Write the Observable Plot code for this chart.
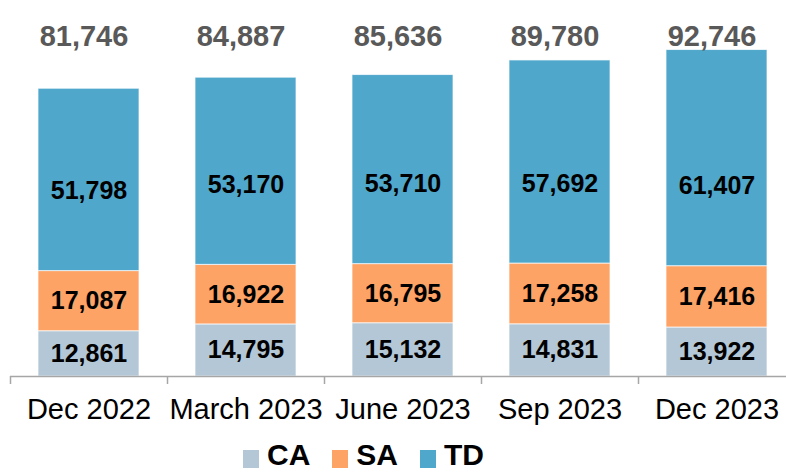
<!DOCTYPE html>
<html>
<head>
<meta charset="utf-8">
<script src="https://cdn.jsdelivr.net/npm/d3@7"></script>
<script src="https://cdn.jsdelivr.net/npm/@observablehq/plot@0.6"></script>
<style>
  html, body { margin: 0; padding: 0; background: #fff; }
  #wrap { position: relative; width: 786px; height: 472px; overflow: hidden; font-family: "Liberation Sans", Arial, sans-serif; }
  #legend { position: absolute; left: 243px; top: 438px; display: flex; align-items: flex-start; }
  .item { display: flex; align-items: flex-start; margin-right: 22px; }
  .sw { width: 16px; height: 18px; margin-top: 12px; margin-right: 8px; }
  .lab { font-size: 30px; line-height: 34px; font-weight: bold; color: #000; }
</style>
</head>
<body>
<div id="wrap"><div id="chart"></div><div id="legend"></div></div>
<script>
const categories = ["Dec 2022", "March 2023", "June 2023", "Sep 2023", "Dec 2023"];
const series = ["CA", "SA", "TD"];
const caValues = [12861, 14795, 15132, 14831, 13922];
const saValues = [17087, 16922, 16795, 17258, 17416];
const tdValues = [51798, 53170, 53710, 57692, 61407];
const totals = [81746, 84887, 85636, 89780, 92746];
const colors = ["#b3c7d6", "#fda365", "#4fa7cb"];

const valuesBySeries = {CA: caValues, SA: saValues, TD: tdValues};
const data = [];
categories.forEach((c, i) => {
  series.forEach(s => data.push({date: c, series: s, value: valuesBySeries[s][i]}));
});
const totalData = categories.map((c, i) => ({date: c, total: totals[i]}));
const fmt = d3.format(",");

const step = 785 / categories.length;

const chart = Plot.plot({
  width: 786,
  height: 436,
  marginTop: 0,
  marginLeft: 10,
  marginRight: 0,
  marginBottom: 60,
  style: {fontFamily: "'Liberation Sans', Arial, sans-serif", color: "#000", background: "#fff"},
  x: {domain: categories, range: [10, 795], paddingInner: 0.357, paddingOuter: 0.1785, label: null},
  y: {domain: [0, 100000], range: [376, 24], axis: null},
  color: {domain: series, range: colors},
  marks: [
    Plot.barY(data, {x: "date", y: "value", fill: "series", z: "series", stroke: "#ffffff", strokeWidth: 1, strokeOpacity: 0.7}),
    Plot.ruleY([0], {stroke: "#a6a6a6", strokeWidth: 1.5}),
    Plot.ruleX(categories, {x: d => d, dx: -step / 2, y1: 0, y2: 0, insetBottom: -8, stroke: "#a6a6a6", strokeWidth: 1.5}),
    Plot.axisX({tickSize: 0, tickPadding: 22, fontSize: 29, fill: "#000"}),
    // CA and SA labels centred in segments
    Plot.text(data, Plot.stackY({x: "date", y: "value", z: "series",
      text: d => d.series === "TD" ? null : fmt(d.value),
      fontSize: 25, fontWeight: "bold", fill: "#000"})),
    // TD labels placed above the lower edge of the segment
    Plot.text(data, Plot.stackY1({x: "date", y: "value", z: "series",
      text: d => d.series === "TD" ? fmt(d.value) : null,
      dy: -80, fontSize: 25, fontWeight: "bold", fill: "#000"})),
    // totals
    Plot.text(totalData, {x: "date", text: d => fmt(d.total), frameAnchor: "top", dy: 25, dx: -5,
      fontSize: 29, fontWeight: "bold", fill: "#595959"})
  ]
});
document.getElementById("chart").appendChild(chart);

const legend = document.getElementById("legend");
series.forEach((s, i) => {
  const item = document.createElement("div");
  item.className = "item";
  const sw = document.createElement("div");
  sw.className = "sw";
  sw.style.background = colors[i];
  const lab = document.createElement("div");
  lab.className = "lab";
  lab.textContent = s;
  item.appendChild(sw);
  item.appendChild(lab);
  legend.appendChild(item);
});
</script>
</body>
</html>
